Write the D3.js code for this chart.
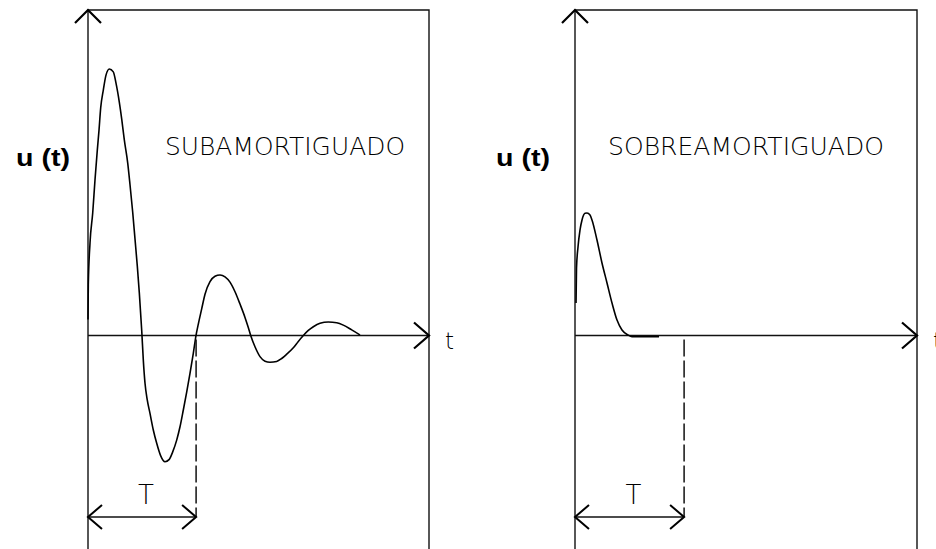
<!DOCTYPE html>
<html>
<head>
<meta charset="utf-8">
<script src="https://cdn.jsdelivr.net/npm/d3@7"></script>
<style>
  body { margin: 0; background: #fff; }
  svg { display: block; }
  .thin { font-family: "DejaVu Sans", sans-serif; font-weight: 200; }
  .ylab { font-family: "Liberation Sans", Arial, sans-serif; font-weight: bold; }
</style>
</head>
<body>
<div id="chart"></div>
<script>
// values (t in arbitrary units, u normalised to first peak)
var subT = [0, 0.009, 0.059, 0.138, 0.205, 0.273, 0.323, 0.372, 0.449, 0.528, 0.625, 0.742, 0.821, 0.918, 0.988,
  1.065, 1.164, 1.232, 1.311, 1.378, 1.446, 1.505, 1.575, 1.622, 1.672, 1.739, 1.818, 1.915, 2.015, 2.129, 2.258,
  2.384, 2.484, 2.601, 2.698, 2.795, 2.894, 2.991, 3.088, 3.167, 3.235, 3.334, 3.431, 3.578, 3.724, 3.871, 4.018,
  4.164, 4.311, 4.457, 4.604, 4.701, 4.771, 4.897, 5.044, 5.191, 5.337, 5.533, 5.680, 5.827, 6.021, 6.168, 6.315,
  6.461, 6.608, 6.804, 7.047, 7.293, 7.487, 7.733, 7.977];
var subU = [0.06, 0.189, 0.347, 0.459, 0.583, 0.695, 0.770, 0.853, 0.920, 0.976, 0.999, 0.988, 0.946, 0.875, 0.812,
  0.733, 0.647, 0.565, 0.462, 0.362, 0.260, 0.160, 0.020, -0.092, -0.179, -0.242, -0.292, -0.354, -0.404, -0.450, -0.473,
  -0.464, -0.436, -0.392, -0.342, -0.279, -0.212, -0.142, -0.067, 0, 0.043, 0.100, 0.155, 0.202, 0.222, 0.227, 0.220,
  0.200, 0.164, 0.118, 0.068, 0.030, 0, -0.042, -0.079, -0.096, -0.100, -0.097, -0.086, -0.070, -0.046, -0.022, 0,
  0.019, 0.033, 0.046, 0.051, 0.048, 0.039, 0.021, 0.002];

var sobreT = [0.03, 0.044, 0.088, 0.146, 0.205, 0.292, 0.351, 0.439, 0.497, 0.643, 0.789, 0.936, 1.082, 1.228,
  1.374, 1.550, 1.667, 2.456];
var sobreU = [0.122, 0.253, 0.332, 0.395, 0.433, 0.458, 0.459, 0.452, 0.433, 0.358, 0.272, 0.197, 0.122, 0.058,
  0.021, 0.002, -0.004, -0.004];

var periodT = [3.17, 3.19];
var titles = ["SUBAMORTIGUADO", "SOBREAMORTIGUADO"];
var yLabel = "u (t)", xLabel = "t", periodLabel = "T";
var tMax = 10, uMin = -0.8, uMax = 1.22, uArrow = -0.68;

var width = 936, height = 549;

var svg = d3.select("#chart").append("svg")
  .attr("width", width)
  .attr("height", height);

var y = d3.scaleLinear().domain([uMin, uMax]).range([height, 10]);

function drawPanel(x0, x1, tv, uv, T, title, titleX, titleW, labX, labW) {
  var x = d3.scaleLinear().domain([0, tMax]).range([x0, x1]);
  var g = svg.append("g");

  var line = d3.line()
    .x(function(d) { return x(d[0]); })
    .y(function(d) { return y(d[1]); });

  // frame: vertical axis, top line, right border
  g.append("path")
    .attr("d", line([[0, uMin], [0, uMax], [tMax, uMax], [tMax, uMin]]))
    .attr("fill", "none").attr("stroke", "#111").attr("stroke-width", 1.4);
  // time axis
  g.append("path")
    .attr("d", line([[0, 0], [tMax, 0]]))
    .attr("fill", "none").attr("stroke", "#111").attr("stroke-width", 1.4);

  // arrow heads
  var ax = x(0), ay = y(uMax);
  g.append("path")
    .attr("d", "M" + (ax - 13) + "," + (ay + 13) + "L" + ax + "," + ay + "L" + (ax + 13) + "," + (ay + 13))
    .attr("fill", "none").attr("stroke", "#000").attr("stroke-width", 2.2);
  var hx = x(tMax), hy = y(0);
  g.append("path")
    .attr("d", "M" + (hx - 15) + "," + (hy - 13) + "L" + hx + "," + hy + "L" + (hx - 15) + "," + (hy + 13))
    .attr("fill", "none").attr("stroke", "#000").attr("stroke-width", 2.2);

  // response curve
  var smooth = d3.line()
    .x(function(d) { return x(d[0]); })
    .y(function(d) { return y(d[1]); })
    .curve(d3.curveMonotoneX);
  g.append("path")
    .attr("d", smooth(d3.zip(tv, uv)))
    .attr("fill", "none").attr("stroke", "#000").attr("stroke-width", 1.6)
    .attr("stroke-linejoin", "round");

  // period marker
  g.append("path")
    .attr("d", line([[T, 0], [T, uArrow]]))
    .attr("fill", "none").attr("stroke", "#111").attr("stroke-width", 1.5)
    .attr("stroke-dasharray", "17,4").attr("stroke-dashoffset", -4);
  g.append("path")
    .attr("d", line([[0, uArrow], [T, uArrow]]))
    .attr("fill", "none").attr("stroke", "#111").attr("stroke-width", 1.4);
  var lx = x(0), rx = x(T), py = y(uArrow);
  g.append("path")
    .attr("d", "M" + (lx + 14) + "," + (py - 12) + "L" + lx + "," + py + "L" + (lx + 14) + "," + (py + 12))
    .attr("fill", "none").attr("stroke", "#000").attr("stroke-width", 2);
  g.append("path")
    .attr("d", "M" + (rx - 14) + "," + (py - 12) + "L" + rx + "," + py + "L" + (rx - 14) + "," + (py + 12))
    .attr("fill", "none").attr("stroke", "#000").attr("stroke-width", 2);

  g.append("text").attr("class", "thin")
    .attr("x", (lx + rx) / 2 + 4).attr("y", py - 13)
    .attr("text-anchor", "middle").attr("font-size", 26)
    .text(periodLabel);

  g.append("text").attr("class", "thin")
    .attr("x", hx + 16).attr("y", hy + 13)
    .attr("font-size", 23)
    .text(xLabel);

  g.append("text").attr("class", "thin")
    .attr("x", titleX).attr("y", 155)
    .attr("font-size", 24.5)
    .attr("textLength", titleW).attr("lengthAdjust", "spacingAndGlyphs")
    .text(title);

  g.append("text").attr("class", "ylab")
    .attr("x", labX).attr("y", 166)
    .attr("font-size", 23)
    .attr("textLength", labW).attr("lengthAdjust", "spacingAndGlyphs")
    .text(yLabel);
}

drawPanel(88, 429, subT, subU, periodT[0], titles[0], 165, 240, 16, 54);
drawPanel(575, 917, sobreT, sobreU, periodT[1], titles[1], 608, 276, 496, 54);
</script>
</body>
</html>
